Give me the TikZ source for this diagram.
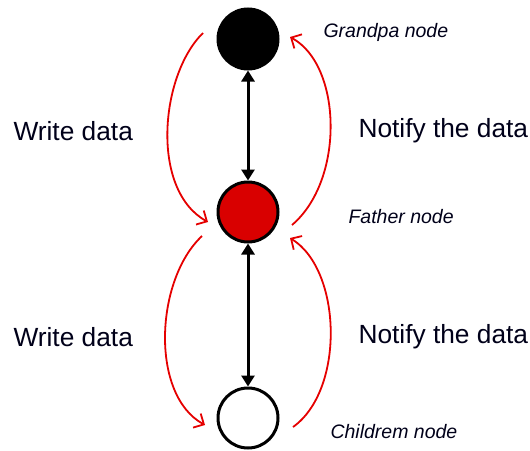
\documentclass[tikz,border=0pt]{standalone}
\usepackage{fontspec}
\setmainfont{Liberation Sans}
\usetikzlibrary{arrows.meta}
\begin{document}
\begin{tikzpicture}[x=1pt,y=-1pt,
  nodecirc/.style={circle,draw=black,line width=3pt,minimum size=60pt,inner sep=0pt},
  link/.style={line width=3pt,{Triangle[length=11pt,width=13pt]}-{Triangle[length=11pt,width=13pt]}},
  flow/.style={draw=red!90!black,line width=1.8pt,-{Straight Barb[length=8pt,width=16pt,line width=1.8pt]}},
  biglabel/.style={font=\fontsize{26.3}{30}\selectfont,text=black!90!blue},
  smalllabel/.style={font=\fontsize{19.5}{23}\selectfont\itshape,text=black!90!blue}]
\useasboundingbox (0,0) rectangle (530,450);
\node[nodecirc,fill=black] (g) at (248,39) {};
\node[nodecirc,fill=red!85!black] (f) at (248,212) {};
\node[nodecirc,fill=white] (c) at (248,418) {};
\draw[link] (g) -- (f);
\draw[link] (f) -- (c);
\coordinate (g1) at (203,33);
\coordinate (f1) at (208,222);
\coordinate (f2) at (292,225);
\coordinate (g2) at (290,37);
\coordinate (f3) at (202,236);
\coordinate (c1) at (205,425);
\coordinate (c2) at (293,427);
\coordinate (f4) at (290,238);
\draw[flow] (g1) .. controls (160,75) and (150,190) .. (f1);
\draw[flow] (f2) .. controls (345,180) and (342,65) .. (g2);
\draw[flow] (f3) .. controls (155,280) and (150,395) .. (c1);
\draw[flow] (c2) .. controls (345,390) and (342,270) .. (f4);
\node[biglabel,anchor=west] (w1) at (10,131) {Write data};
\node[biglabel,anchor=west] (n1) at (355,131) {Notify the data};
\node[biglabel,anchor=west] (w2) at (10,337) {Write data};
\node[biglabel,anchor=west] (n2) at (355,337) {Notify the data};
\node[smalllabel,anchor=west] (gl) at (320,32) {Grandpa node};
\node[smalllabel,anchor=west] (fl) at (345,217) {Father node};
\node[smalllabel,anchor=west] (cl) at (327,432) {Childrem node};
\end{tikzpicture}
\end{document}
